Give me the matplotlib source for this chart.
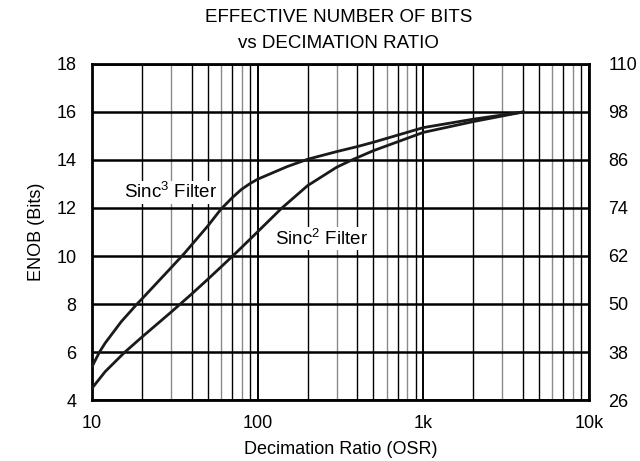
import matplotlib.pyplot as plt
import numpy as np

plt.rcParams['font.family'] = ['Liberation Sans', 'DejaVu Sans']
plt.rcParams['mathtext.fontset'] = 'custom'
plt.rcParams['mathtext.rm'] = 'Liberation Sans'
plt.rcParams['mathtext.it'] = 'Liberation Sans'

# decimation ratio (OSR) vs ENOB
osr_sinc3 = [10, 11.1, 12, 15, 18.7, 20, 30, 36, 40, 50, 60, 70, 80, 90, 100, 150, 200, 300, 400, 500, 1000, 2000, 4000]
enob_sinc3 = [5.39, 6.0, 6.37, 7.26, 8.0, 8.21, 9.51, 10.1, 10.47, 11.25, 11.95, 12.42, 12.78, 13.02, 13.2, 13.72, 14.03, 14.35, 14.56, 14.74, 15.35, 15.7, 16.0]

osr_sinc2 = [10, 12, 15.7, 20, 30, 40, 50, 60, 75, 100, 139, 200, 300, 370, 500, 1000, 2000, 4000]
enob_sinc2 = [4.49, 5.18, 5.98, 6.62, 7.66, 8.42, 9.03, 9.54, 10.17, 11.01, 11.98, 12.93, 13.7, 14.0, 14.39, 15.15, 15.6, 16.0]

left_ticks = [4, 6, 8, 10, 12, 14, 16, 18]
right_ticks = [26, 38, 50, 62, 74, 86, 98, 110]
x_ticks = [10, 100, 1000, 10000]
x_labels = ['10', '100', '1k', '10k']

fs = 13

fig = plt.figure(figsize=(6.4, 4.61), dpi=100)
ax = fig.add_axes([92/640, 1-400/461, (589-92)/640, (400-64)/461])

ax.set_xscale('log')
ax.set_xlim(10, 10000)
ax.set_ylim(4, 18)

# grid: minor lines grey, some darker, major black
for dec in [10, 100, 1000]:
	for m in range(2, 10):
		c = '#000000' if m in (2, 4, 5, 7, 9) else '#8a8a8a'
		ax.axvline(dec*m, color=c, lw=1.0, zorder=1)
for d in x_ticks:
	ax.axvline(d, color='k', lw=1.4, zorder=1)
for y in left_ticks:
	ax.axhline(y, color='k', lw=1.8, zorder=1)

ax.plot(osr_sinc3, enob_sinc3, color='#1a1a1a', lw=2.0, zorder=3)
ax.plot(osr_sinc2, enob_sinc2, color='#1a1a1a', lw=2.0, zorder=3)

ax.text(15.6, 12.65, 'Sinc$^3$ Filter', fontsize=13.5, ha='left', va='center',
	bbox=dict(facecolor='white', edgecolor='none', pad=1.0), zorder=4)
ax.text(128, 10.72, 'Sinc$^2$ Filter', fontsize=13.5, ha='left', va='center',
	bbox=dict(facecolor='white', edgecolor='none', pad=1.0), zorder=4)

ax.set_xticks(x_ticks)
ax.set_xticklabels(x_labels)
ax.xaxis.set_minor_locator(plt.NullLocator())
ax.set_yticks(left_ticks)
ax.tick_params(axis='x', length=0, labelsize=fs, pad=11)
ax.tick_params(axis='y', length=0, labelsize=fs, pad=11)
for s in ax.spines.values():
	s.set_linewidth(2.0)

ax.set_xlabel('Decimation Ratio (OSR)', fontsize=fs, labelpad=6)
ax.set_ylabel('ENOB (Bits)', fontsize=fs, labelpad=8)

ax2 = ax.twinx()
ax2.set_ylim(26, 110)
ax2.set_yticks(right_ticks)
ax2.tick_params(axis='y', length=0, labelsize=fs, pad=14)
for s in ax2.spines.values():
	s.set_visible(False)

cx = 0.5*(205+472)/640
fig.text(cx, 1-18/461, 'EFFECTIVE NUMBER OF BITS', ha='center', va='center', fontsize=13.5)
fig.text(cx, 1-43/461, 'vs DECIMATION RATIO', ha='center', va='center', fontsize=13.5)

plt.savefig('out.png', dpi=100)
